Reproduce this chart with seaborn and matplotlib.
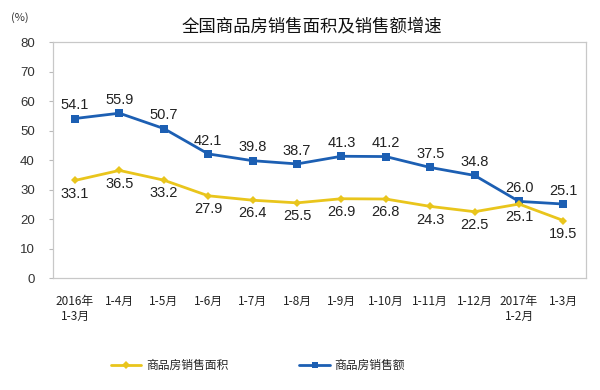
import pandas as pd
import seaborn as sns
import matplotlib.pyplot as plt
from matplotlib.lines import Line2D

# data
months = ['2016年\n1-3月', '1-4月', '1-5月', '1-6月', '1-7月', '1-8月',
          '1-9月', '1-10月', '1-11月', '1-12月', '2017年\n1-2月', '1-3月']
area_growth = [33.1, 36.5, 33.2, 27.9, 26.4, 25.5, 26.9, 26.8, 24.3, 22.5, 25.1, 19.5]
sales_growth = [54.1, 55.9, 50.7, 42.1, 39.8, 38.7, 41.3, 41.2, 37.5, 34.8, 26.0, 25.1]
yticks = [0, 10, 20, 30, 40, 50, 60, 70, 80]

area_name = '商品房销售面积'
sales_name = '商品房销售额'
yellow = '#E9C51C'
blue = '#1C5FB3'

sns.set_style('white')
plt.rcParams['font.family'] = ['Noto Sans CJK SC', 'DejaVu Sans']

df = pd.DataFrame({'month': months, 'idx': range(len(months)),
                   'area': area_growth, 'sales': sales_growth})

fig = plt.figure(figsize=(6, 3.9), dpi=100)
ax = fig.add_axes([0.088, 0.287, 0.888, 0.605])

sns.lineplot(x='idx', y='sales', data=df, ax=ax, color=blue, lw=2,
             marker='s', markersize=5.5, markeredgewidth=0)
sns.lineplot(x='idx', y='area', data=df, ax=ax, color=yellow, lw=2,
             marker='D', markersize=4.5, markeredgewidth=0)

for i, v in enumerate(sales_growth):
    ax.annotate(f'{v:.1f}', (i, v), xytext=(0, 9.5), textcoords='offset points',
                ha='center', va='center', fontsize=10.5, color='#222222',
                family='Liberation Sans')
for i, v in enumerate(area_growth):
    ax.annotate(f'{v:.1f}', (i, v), xytext=(0, -9.5), textcoords='offset points',
                ha='center', va='center', fontsize=10.5, color='#222222',
                family='Liberation Sans')

ax.set_xlim(-0.5, len(months) - 0.5)
ax.set_ylim(0, 80)
ax.set_yticks(yticks)
ax.set_yticklabels([str(t) for t in yticks], family='Liberation Sans', fontsize=9.5,
                   color='#333333')
ax.set_xticks(range(len(months)))
ax.set_xticklabels(months, fontsize=8.5, color='#222222', linespacing=1.25)
ax.set_xticks([i + 0.5 for i in range(len(months) - 1)], minor=True)
ax.tick_params(axis='x', which='major', length=0, pad=12)
ax.tick_params(axis='x', which='minor', length=3, direction='in', color='#bbbbbb')
ax.tick_params(axis='y', length=3, direction='out', color='#bbbbbb', left=True, pad=10)
for s in ax.spines.values():
    s.set_color('#c8c8c8')
    s.set_linewidth(0.9)
ax.set_xlabel('')
ax.set_ylabel('')

fig.text(0.52, 0.933, '全国商品房销售面积及销售额增速', ha='center', va='center',
         fontsize=12.5, color='#111111')
fig.text(0.018, 0.955, '(%)', ha='left', va='center', fontsize=8, color='#333333')

handles = [Line2D([], [], color=yellow, lw=2, marker='D', markersize=4, markeredgewidth=0),
           Line2D([], [], color=blue, lw=2, marker='s', markersize=4, markeredgewidth=0)]
fig.legend(handles, [area_name, sales_name], loc='center', bbox_to_anchor=(0.43, 0.062),
           ncol=2, frameon=False, fontsize=8.5, columnspacing=6, handlelength=2.6,
           handletextpad=0.4)

fig.savefig('out.png', dpi=100)
